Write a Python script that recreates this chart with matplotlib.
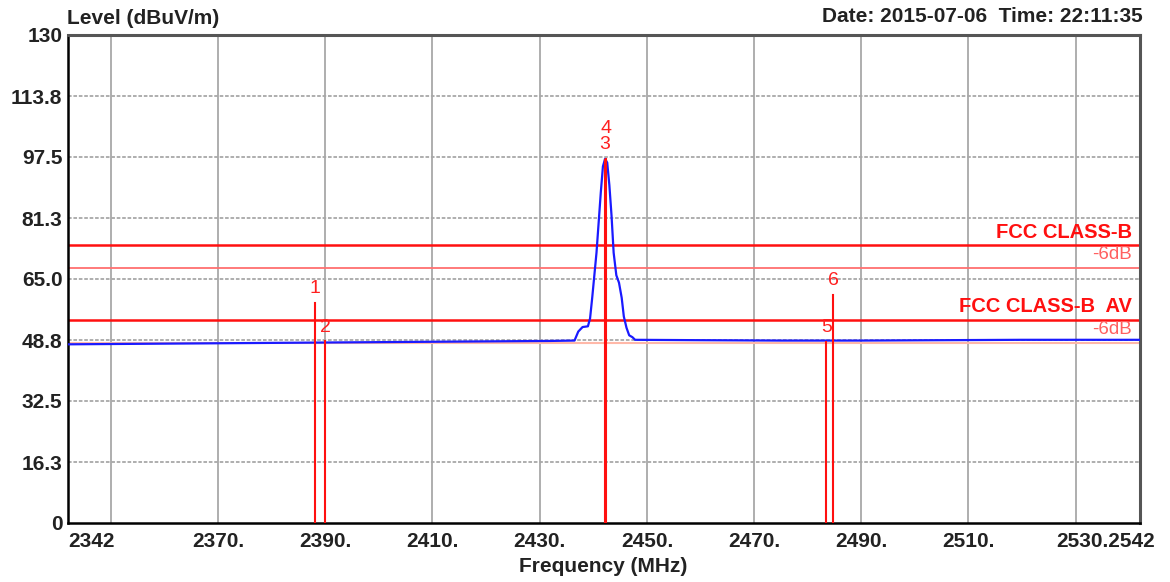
import matplotlib
matplotlib.use("Agg")
import matplotlib.pyplot as plt
import matplotlib.transforms as mtransforms

plt.rcParams['font.family'] = ['Liberation Sans', 'DejaVu Sans']

# Trace mesuree (MHz, dBuV/m)
freq = [2342, 2352, 2362, 2372, 2382, 2392, 2402, 2412, 2422, 2432, 2436.5,
        2437.2, 2438.0, 2439.0, 2439.4, 2439.8, 2440.2, 2440.6, 2441.0, 2441.4,
        2441.8, 2442.2, 2442.6, 2443.0, 2443.4, 2443.8, 2444.3, 2444.8, 2445.3,
        2445.7, 2446.2, 2446.7, 2447.3, 2447.8, 2460, 2475, 2490, 2505, 2520, 2542]
level = [47.6, 47.7, 47.8, 47.9, 48.0, 48.1, 48.2, 48.3, 48.4, 48.5, 48.6,
         51.0, 52.2, 52.4, 54.5, 60.0, 66.0, 72.0, 80.0, 88.0,
         95.0, 97.0, 96.0, 90.0, 82.0, 72.0, 66.0, 64.0, 60.0,
         55.0, 52.0, 50.0, 49.5, 48.8, 48.7, 48.6, 48.6, 48.7, 48.8, 48.8]

# Limites
limit_names = ["FCC CLASS-B", "-6dB", "FCC CLASS-B  AV", "-6dB"]
limit_values = [74.0, 68.0, 54.0, 48.0]

# Marqueurs
marker_ids = ["1", "2", "3", "4", "5", "6"]
marker_freq = [2388.0, 2390.0, 2442.2, 2442.4, 2483.5, 2484.8]
marker_level = [58.6, 48.5, 96.8, 97.0, 48.2, 60.7]
marker_label_y = [62.6, 52.0, 100.7, 105.2, 52.2, 64.7]

y_ticks = [0, 16.25, 32.5, 48.75, 65.0, 81.25, 97.5, 113.75, 130]
y_labels = ["0", "16.3", "32.5", "48.8", "65.0", "81.3", "97.5", "113.8", "130"]
x_grid = [2350, 2370, 2390, 2410, 2430, 2450, 2470, 2490, 2510, 2530]
x_label_pos = [2342, 2370, 2390, 2410, 2430, 2450, 2470, 2490, 2510, 2530]
x_labels = ["2342", "2370.", "2390.", "2410.", "2430.", "2450.", "2470.", "2490.", "2510.", "2530.2542"]

fig = plt.figure(figsize=(11.7, 5.82), dpi=100)
ax = fig.add_axes([68 / 1170, 1 - 523 / 582, 1072 / 1170, 488 / 582])
ax.set_xlim(2342, 2542)
ax.set_ylim(0, 130)

# Grille
for f in x_grid:
    ax.axvline(f, color='#a8a8a8', lw=1.3, zorder=1)
for v in y_ticks[1:-1]:
    ax.axhline(v, color='#a8a8a8', lw=1.3, ls=(0, (2, 1)), zorder=1)

# Lignes limites
limit_colors = ['#ff1010', '#ff7070', '#ff1010', '#ffb8a8']
limit_widths = [1.8, 1.3, 1.8, 1.5]
for v, c, w in zip(limit_values, limit_colors, limit_widths):
    ax.axhline(v, color=c, lw=w, zorder=2)

ax.plot(freq, level, color='#1a1aff', lw=1.6, zorder=3)

# Marqueurs
for mid, f, v, ly in zip(marker_ids, marker_freq, marker_level, marker_label_y):
    ax.plot([f, f], [0, v], color='#ff1010', lw=1.5, zorder=4)
    ax.text(f, ly, mid, color='#ff2020', fontsize=14, ha='center', va='center', zorder=5)

# Textes des limites
label_offsets = [3.4, 3.4, 3.6, 3.6]
for name, v, off in zip(limit_names, limit_values, label_offsets):
    bold = not name.startswith("-")
    ax.text(2540.5, v + off, name, color='#ff1010' if bold else '#ff6060',
            fontsize=14.5 if bold else 13.5, fontweight='bold' if bold else 'normal',
            ha='right', va='center', zorder=5)

# Axes
ax.set_xticks(x_grid)
ax.set_xticklabels([])
ax.set_yticks(y_ticks)
ax.set_yticklabels(y_labels, fontsize=15, fontweight='bold', color='#222222')
ax.tick_params(length=0, pad=4)

trans = mtransforms.blended_transform_factory(ax.transData, ax.transAxes)
for pos, lab in zip(x_label_pos, x_labels):
    ha = 'left' if pos == 2342 else 'center'
    xx = pos + 5.5 if pos == 2530 else pos
    ax.text(xx, -0.018, lab, transform=trans, ha=ha, va='top', fontsize=15,
            fontweight='bold', color='#222222')

for side in ['left', 'bottom']:
    ax.spines[side].set_color('#000000')
    ax.spines[side].set_linewidth(1.8)
for side in ['top', 'right']:
    ax.spines[side].set_color('#555555')
    ax.spines[side].set_linewidth(2.2)

fig.text(67 / 1170, 1 - 18 / 582, "Level (dBuV/m)", fontsize=15, fontweight='bold',
         color='#222222', ha='left', va='center')
fig.text(1143 / 1170, 1 - 16 / 582, "Date: 2015-07-06  Time: 22:11:35", fontsize=15,
         fontweight='bold', color='#222222', ha='right', va='center')
fig.text(603 / 1170, 1 - 566 / 582, "Frequency (MHz)", fontsize=15, fontweight='bold',
         color='#222222', ha='center', va='center')

fig.savefig("out.png", dpi=100, facecolor='white')
